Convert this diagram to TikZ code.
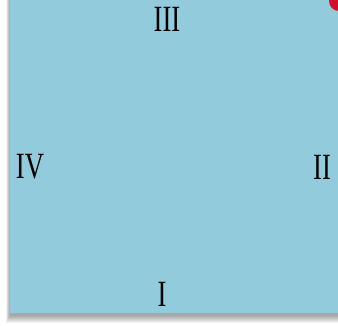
\documentclass[tikz,border=0pt]{standalone}
\usepackage{fontspec}
\setmainfont{Liberation Serif}
\definecolor{boxblue}{RGB}{146,204,220}
\definecolor{dotred}{RGB}{210,16,42}
\begin{document}
\begin{tikzpicture}[x=1pt,y=1pt,
  lbl/.style={inner sep=0pt,font=\fontsize{37}{37}\selectfont,xscale=0.72}]
\useasboundingbox (0,0) rectangle (338,326);
\clip (0,0) rectangle (338,326);
% soft shadow
\foreach \i in {0,...,7}{
  \fill[black,opacity=0.05] (6+\i*0.5,13-10+\i*1.0) rectangle (345,330);
}
\fill[boxblue] (10,13) rectangle (345,330);
\node[lbl] (n3) at (167,306.5) {III};
\node[lbl] (n1) at (162,32) {I};
\node[lbl] (n4) at (30,159) {IV};
\node[lbl] (n2) at (322,159) {II};
\fill[dotred] (339,325) circle (10);
\end{tikzpicture}
\end{document}
